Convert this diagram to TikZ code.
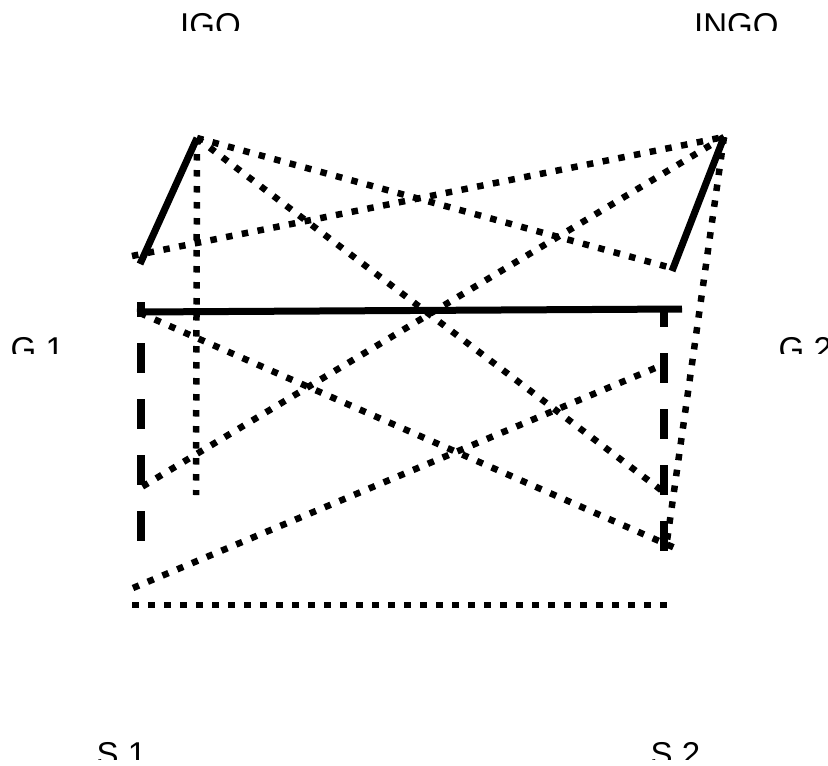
\documentclass[tikz,border=0pt]{standalone}
\usepackage{fontspec}
\setmainfont{Liberation Sans}
\begin{document}
\begin{tikzpicture}[x=1pt,y=-1pt,
  lbl/.style={anchor=base west, inner sep=0pt, font=\fontsize{33}{40}\selectfont},
  solidln/.style={line width=7pt},
  dotln/.style={line width=6.5pt, dash pattern=on 6.5pt off 9.5pt},
  dashln/.style={line width=7.5pt, dash pattern=on 30pt off 26pt}]
\useasboundingbox (0,0) rectangle (828,766);

% labels, cut off along their lower part
\begin{scope}\clip (150,0) rectangle (300,30);
  \node[lbl] (igo) at (180,36.6) {IGO};\end{scope}
\begin{scope}\clip (650,0) rectangle (828,30);
  \node[lbl] (ingo) at (694,36.6) {INGO};\end{scope}
\begin{scope}\clip (0,320) rectangle (100,353);
  \node[lbl] (g1) at (10.5,360.6) {G 1};\end{scope}
\begin{scope}\clip (760,320) rectangle (828,353);
  \node[lbl] (g2) at (778.5,360.6) {G 2};\end{scope}
\begin{scope}\clip (60,720) rectangle (200,759);
  \node[lbl] (s1) at (96.5,765.6) {S 1};\end{scope}
\begin{scope}\clip (620,720) rectangle (760,759);
  \node[lbl] (s2) at (650.5,765.6) {S 2};\end{scope}

% end points
\coordinate (igoTop) at (197,138);
\coordinate (ingoTop) at (724,137);
\coordinate (g1a) at (140,264);
\coordinate (g1b) at (132,256);
\coordinate (g2a) at (672,271);
\coordinate (g2b) at (668,267);
\coordinate (hL) at (137,312);
\coordinate (hR) at (682,309);
\coordinate (igoBot) at (196,495);
\coordinate (lA) at (141,302);
\coordinate (lB) at (141,541);
\coordinate (rA) at (664,307);
\coordinate (rB) at (664,551);
\coordinate (g1c) at (140,313);
\coordinate (g1d) at (140,488);
\coordinate (rC) at (665,493);
\coordinate (rD) at (675,548);
\coordinate (rE) at (666,548);
\coordinate (rF) at (660,366);
\coordinate (s1a) at (133,588);
\coordinate (s1b) at (132,605);
\coordinate (s2b) at (667,605);

% solid lines
\draw[solidln] (g1a) -- (igoTop);
\draw[solidln] (g2a) -- (ingoTop);
\draw[solidln] (hL) -- (hR);

% dashed verticals
\draw[dashln, dash phase=15pt] (lA) -- (lB);
\draw[dashln, dash phase=10pt] (rA) -- (rB);

% dotted lines
\draw[dotln] (igoTop) -- (igoBot);
\draw[dotln] (igoTop) -- (g2b);
\draw[dotln] (igoTop) -- (rC);
\draw[dotln] (g1b) -- (ingoTop);
\draw[dotln] (ingoTop) -- (g1d);
\draw[dotln] (ingoTop) -- (rE);
\draw[dotln] (g1c) -- (rD);
\draw[dotln] (s1a) -- (rF);
\draw[dotln] (s1b) -- (s2b);
\end{tikzpicture}
\end{document}
